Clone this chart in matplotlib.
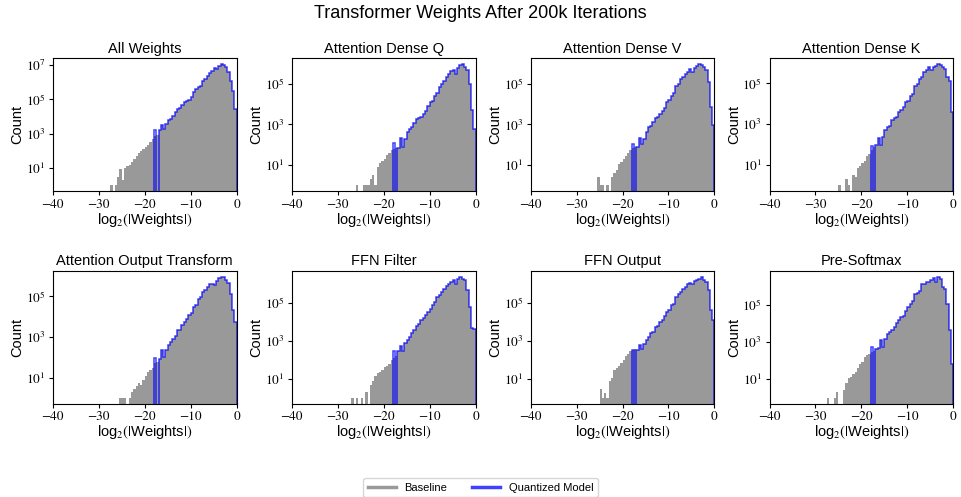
import numpy as np
import matplotlib
matplotlib.use("Agg")
import matplotlib.pyplot as plt
from matplotlib.lines import Line2D
from matplotlib.ticker import FixedLocator, LogFormatterSciNotation, NullLocator

# log10 of bin counts, bins of width 0.5 in log2(|w|)
# baseline: bins from -28 to 0 (56 bins), None = empty bin
# quantized: bins from -18 to 0 (36 bins)
titles = ["All Weights", "Attention Dense Q", "Attention Dense V", "Attention Dense K",
          "Attention Output Transform", "FFN Filter", "FFN Output", "Pre-Softmax"]

base_all = [None, 0, None, 0, 0.5, 0.95, 0.3, 1.0, 1.1, 1.2, 1.35, 1.55, 1.7, 1.9, 2.0, 2.1, 2.2, 2.35, 2.5, 2.7,
            2.85, 2.95,
            3.21, 3.5, 3.25, 3.56, 3.79, 3.88, 4.02, 4.27, 4.46, 4.5, 4.65, 4.85, 4.94, 4.98, 5.13, 5.42, 5.62,
            5.75, 5.81, 6.1, 6.19, 6.38, 6.52, 6.67, 6.83, 6.77, 6.96, 7.06, 7.02, 6.87, 6.58, 6.1, 5.52, 4.46]
quant_all = [3.19, None,
             3.21, 3.5, 3.25, 3.56, 3.79, 3.88, 4.02, 4.27, 4.46, 4.5, 4.65, 4.85, 4.94, 4.98, 5.13, 5.42, 5.62,
             5.75, 5.81, 6.1, 6.19, 6.38, 6.52, 6.67, 6.83, 6.77, 6.96, 7.06, 7.02, 6.87, 6.58, 6.1, 5.52, 4.46]

base_q = [None, None, None, None, 0, None, None, 0, 0, 0, 0.3, 0.48, 0, 0.9, 1.1, 1.2, 1.3, 1.5, 1.6, 1.75,
          1.8, 1.85,
          1.85, 2.34, 1.89, 2.3, 2.62, 2.79, 2.87, 3.07, 3.28, 3.33, 3.39, 3.52, 3.69, 3.89, 4.1, 4.18, 4.43,
          4.54, 4.84, 5.0, 5.16, 5.33, 5.49, 5.62, 5.69, 5.52, 5.79, 5.93, 5.98, 5.85, 5.7, 5.0, 3.7, 2.8]
quant_q = [2.08, None,
           1.85, 2.34, 1.89, 2.3, 2.62, 2.79, 2.87, 3.07, 3.28, 3.33, 3.39, 3.52, 3.69, 3.89, 4.1, 4.18, 4.43,
           4.54, 4.84, 5.0, 5.16, 5.33, 5.49, 5.62, 5.69, 5.52, 5.79, 5.93, 5.98, 5.85, 5.7, 5.0, 3.7, 2.8]

base_v = [None, None, None, None, None, 0.4, 0, 0, None, 0, None, 0.4, 0.6, 0.75, 1.05, 1.15, 1.3, 1.45, 1.6, 1.75,
          1.85, 1.9,
          1.89, 2.34, 2.05, 2.3, 2.62, 2.87, 2.9, 3.11, 3.33, 3.39, 3.52, 3.69, 3.82, 4.1, 4.21, 4.43, 4.54,
          4.92, 5.0, 5.25, 5.36, 5.52, 5.57, 5.74, 5.57, 5.79, 5.9, 5.98, 5.95, 5.85, 5.69, 5.08, 3.85, 2.95]
quant_v = [2.02, None,
           1.89, 2.34, 2.05, 2.3, 2.62, 2.87, 2.9, 3.11, 3.33, 3.39, 3.52, 3.69, 3.82, 4.1, 4.21, 4.43, 4.54,
           4.92, 5.0, 5.25, 5.36, 5.52, 5.57, 5.74, 5.57, 5.79, 5.9, 5.98, 5.95, 5.85, 5.69, 5.08, 3.85, 2.95]

base_k = [None, None, None, None, None, None, 0, None, None, 0.3, 0, None, 0.5, 0.4, 0.85, 0.95, 1.1, 1.2, 1.45, 1.55,
          1.75, 1.85,
          1.96, 2.33, 1.96, 2.36, 2.69, 2.85, 2.9, 3.18, 3.3, 3.37, 3.58, 3.67, 3.83, 4.1, 4.15, 4.4, 4.48,
          4.89, 4.97, 5.2, 5.29, 5.54, 5.65, 5.78, 5.65, 5.8, 5.86, 5.94, 5.9, 5.8, 5.69, 5.29, 5.13, 3.58]
quant_k = [1.94, None,
           1.96, 2.33, 1.96, 2.36, 2.69, 2.85, 2.9, 3.18, 3.3, 3.37, 3.58, 3.67, 3.83, 4.1, 4.15, 4.4, 4.48,
           4.89, 4.97, 5.2, 5.29, 5.54, 5.65, 5.78, 5.65, 5.8, 5.86, 5.94, 5.9, 5.8, 5.69, 5.29, 5.13, 3.58]

base_out = [None, None, None, None, None, 0, 0, 0, None, 0, 0.3, 0.46, 0.6, 0.74, 0.62, 0.9, 1.1, 1.28, 1.36, 1.5,
            1.7, 1.75,
            1.93, 2.38, 2.02, 2.34, 2.59, 2.75, 2.92, 3.03, 3.33, 3.36, 3.57, 3.74, 3.9, 4.07, 4.18, 4.48, 4.56,
            4.89, 4.97, 5.21, 5.33, 5.46, 5.62, 5.62, 5.54, 5.75, 5.88, 5.95, 5.95, 5.82, 5.66, 5.13, 4.31, 3.74]
quant_out = [1.98, None,
             1.93, 2.38, 2.02, 2.34, 2.59, 2.75, 2.92, 3.03, 3.33, 3.36, 3.57, 3.74, 3.9, 4.07, 4.18, 4.48, 4.56,
             4.89, 4.97, 5.21, 5.33, 5.46, 5.62, 5.62, 5.54, 5.75, 5.88, 5.95, 5.95, 5.82, 5.66, 5.13, 4.31, 3.74]

base_filt = [None, None, 0, None, 0, None, 0, None, 0.3, None, 0.7, 0.9, 1.14, 1.3, 1.35, 1.45, 1.6, 1.7, 1.8, 2.0,
             2.1, 2.2,
             2.44, 2.73, 2.49, 2.87, 3.05, 3.22, 3.39, 3.56, 3.77, 3.88, 4.08, 4.17, 4.34, 4.52, 4.64, 4.86, 5.03,
             5.3, 5.38, 5.56, 5.73, 5.85, 5.99, 6.08, 6.16, 5.99, 6.25, 6.34, 6.25, 6.2, 5.64, 4.78, 3.65, 3.6]
quant_filt = [2.49, None,
              2.44, 2.73, 2.49, 2.87, 3.05, 3.22, 3.39, 3.56, 3.77, 3.88, 4.08, 4.17, 4.34, 4.52, 4.64, 4.86, 5.03,
              5.3, 5.38, 5.56, 5.73, 5.85, 5.99, 6.08, 6.16, 5.99, 6.25, 6.34, 6.25, 6.2, 5.64, 4.78, 3.65, 3.6]

base_ffo = [None, None, None, None, None, None, 0.48, 0, 0.27, 0, 0.88, 1.05, 1.49, 1.57, 1.66, 1.83, 2.0, 2.18, 2.3, 2.44,
            2.5, 2.55,
            2.52, 2.78, 2.56, 2.84, 3.05, 3.18, 3.39, 3.48, 3.7, 3.77, 3.99, 4.08, 4.29, 4.52, 4.6, 4.86, 4.95,
            5.3, 5.47, 5.56, 5.73, 5.82, 5.96, 6.03, 5.99, 6.13, 6.2, 6.25, 6.34, 6.2, 6.08, 5.64, 4.6, 4.08]
quant_ffo = [2.52, None,
             2.52, 2.78, 2.56, 2.84, 3.05, 3.18, 3.39, 3.48, 3.7, 3.77, 3.99, 4.08, 4.29, 4.52, 4.6, 4.86, 4.95,
             5.3, 5.47, 5.56, 5.73, 5.82, 5.96, 6.03, 5.99, 6.13, 6.2, 6.25, 6.34, 6.2, 6.08, 5.64, 4.6, 4.08]

base_soft = [None, 0, None, None, 0, 0.34, None, None, 0.43, 0.79, 1.05, 1.14, 1.28, 1.41, 1.59, 1.85, 1.94, 2.21, 2.3, 2.39,
             2.45, 2.5,
             2.65, 2.7, 3.1, 2.74, 3.18, 3.45, 3.54, 3.63, 3.81, 4.02, 4.17, 4.34, 4.43, 4.7, 4.88, 5.05, 5.23,
             5.59, 5.62, 5.76, 6.12, 6.15, 6.21, 6.26, 6.33, 6.47, 6.26, 6.5, 6.39, 5.98, 5.85, 5.05, 3.63, 1.85]
quant_soft = [2.74, None,
              2.65, 2.7, 3.1, 2.74, 3.18, 3.45, 3.54, 3.63, 3.81, 4.02, 4.17, 4.34, 4.43, 4.7, 4.88, 5.05, 5.23,
              5.59, 5.62, 5.76, 6.12, 6.15, 6.21, 6.26, 6.33, 6.47, 6.26, 6.5, 6.39, 5.98, 5.85, 5.05, 3.63, 1.85]

baselines = [base_all, base_q, base_v, base_k, base_out, base_filt, base_ffo, base_soft]
quantized = [quant_all, quant_q, quant_v, quant_k, quant_out, quant_filt, quant_ffo, quant_soft]


def to_counts(log_vals):
    return np.array([0.0 if v is None else 10 ** v for v in log_vals])


plt.rcParams['mathtext.fontset'] = 'stix'
plt.rcParams['font.family'] = ['Liberation Sans', 'DejaVu Sans']

base_edges = np.linspace(-28, 0, 57)
quant_edges = np.linspace(-18, 0, 37)
gray = (0.5, 0.5, 0.5, 0.8)
blue = (0.0, 0.0, 1.0, 0.75)

fig, axes = plt.subplots(2, 4, figsize=(9.61, 4.97), dpi=100)
plt.subplots_adjust(left=0.055, right=0.992, top=0.883, bottom=0.187, wspace=0.30, hspace=0.6)

for ax, title, base, quant in zip(axes.flat, titles, baselines, quantized):
    bc = to_counts(base)
    qc = to_counts(quant)
    ax.set_yscale('log')
    ax.stairs(bc, base_edges, fill=True, color=gray, baseline=0)
    ax.stairs(qc, quant_edges, color=blue, linewidth=1.1, baseline=0)

    peak = np.log10(max(bc.max(), qc.max()))
    ax.set_ylim(10 ** (-0.05 * peak), 10 ** (1.05 * peak))
    ax.set_xlim(-40, 0)
    ax.set_xticks([-40, -30, -20, -10, 0])
    ax.yaxis.set_major_locator(FixedLocator([1e1, 1e3, 1e5, 1e7]))
    ax.yaxis.set_major_formatter(LogFormatterSciNotation())
    ax.yaxis.set_minor_locator(NullLocator())
    ax.tick_params(labelsize=9.5, labelfontfamily='STIXGeneral', length=3, pad=2.5)

    ax.set_title(title, fontsize=10.5, pad=4)
    ax.set_ylabel('Count', fontsize=10.5, labelpad=1)
    ax.set_xlabel(r'log$_2(|$Weights$|)$', fontsize=10.5, labelpad=0)

fig.suptitle('Transformer Weights After 200k Iterations', fontsize=13, y=0.99)

handles = [Line2D([], [], color=gray, lw=2.5), Line2D([], [], color=blue, lw=2.5)]
fig.legend(handles, ['Baseline', 'Quantized Model'], loc='upper center',
           bbox_to_anchor=(0.5, 0.038), ncol=2, fontsize=8, frameon=True,
           handlelength=2.5, columnspacing=2.2, borderaxespad=0)

fig.savefig('out.png', dpi=100)
